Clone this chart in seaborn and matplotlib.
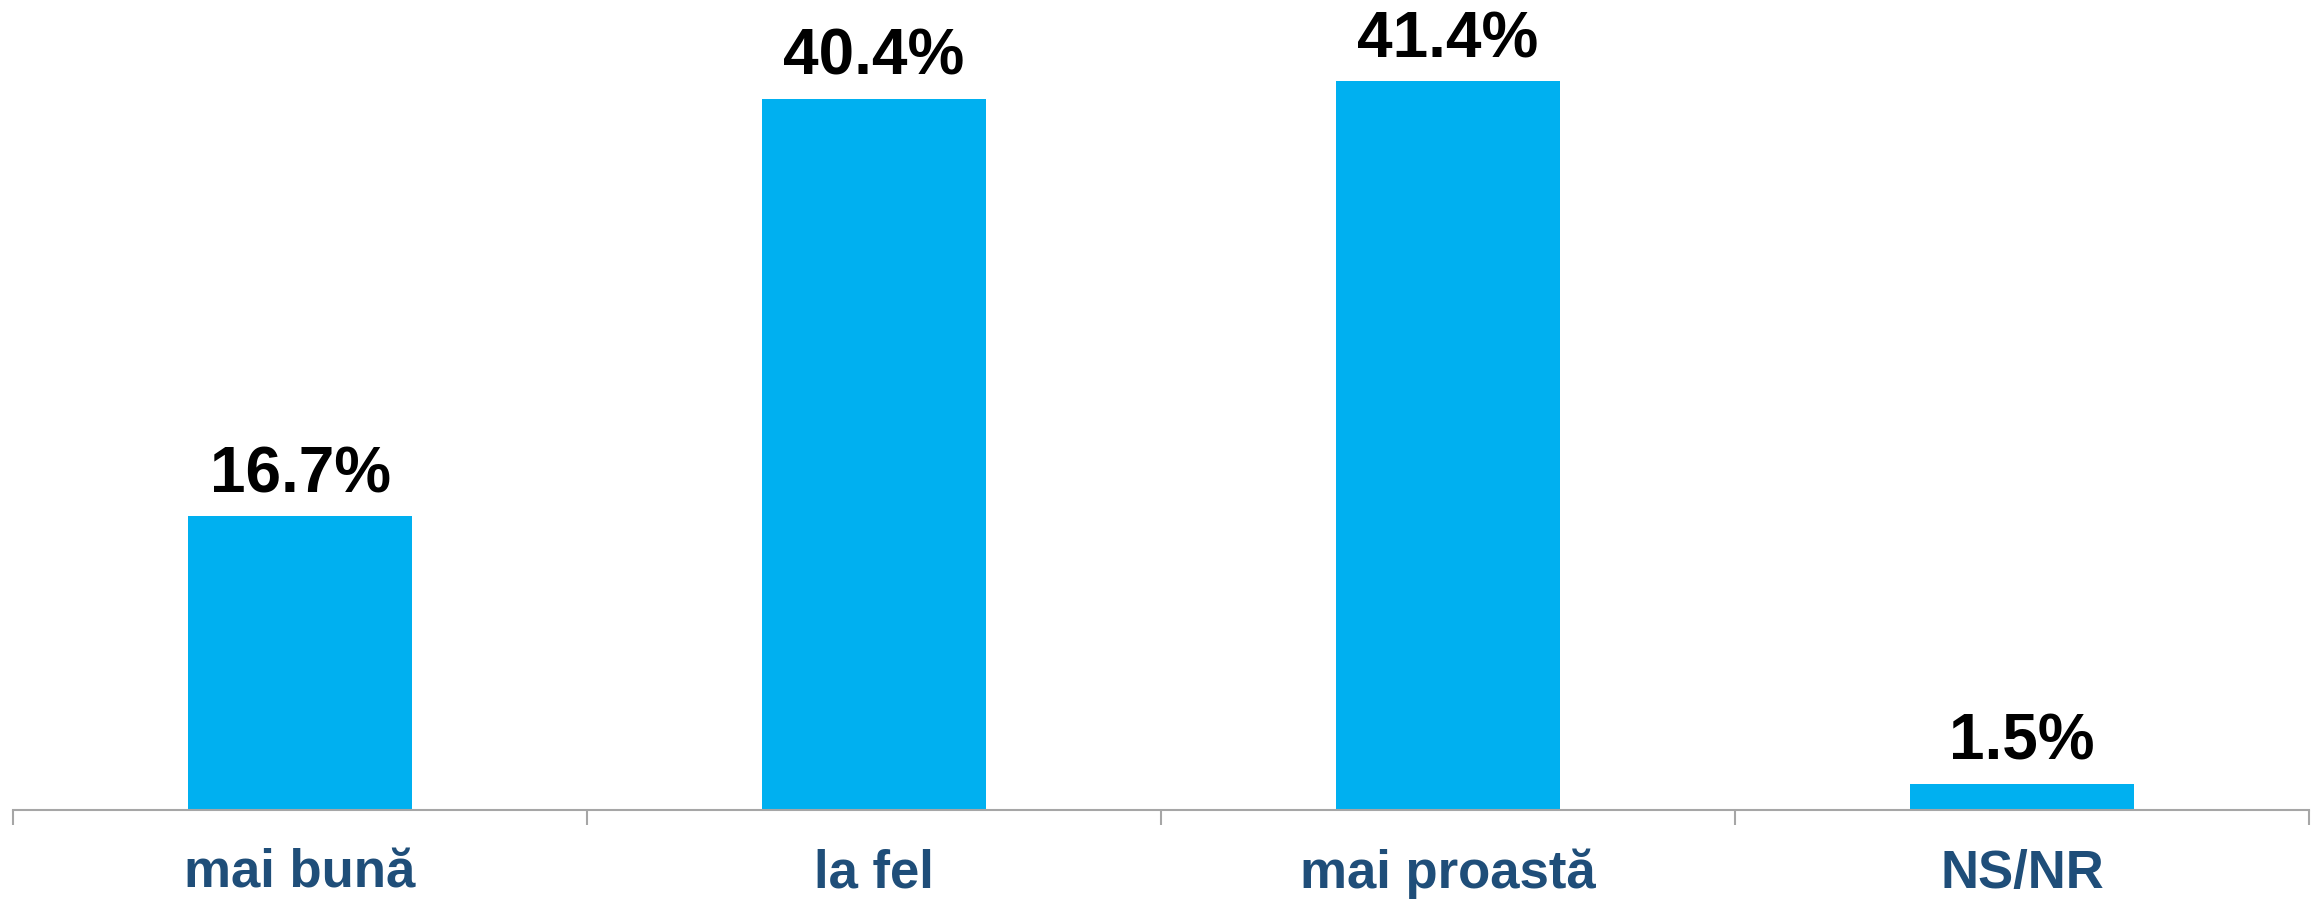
import matplotlib
matplotlib.use("Agg")
import matplotlib.pyplot as plt
import seaborn as sns
import pandas as pd

categories = ["mai bună", "la fel", "mai proastă", "NS/NR"]
values = [16.7, 40.4, 41.4, 1.5]
value_labels = ["16.7%", "40.4%", "41.4%", "1.5%"]

sns.set_theme(style="white")
plt.rcParams['font.family'] = ['Liberation Sans', 'DejaVu Sans']

df = pd.DataFrame({"cat": categories, "val": values})

W, H = 2318, 900
fig = plt.figure(figsize=(W / 100, H / 100), dpi=100)
ax = fig.add_axes([13 / W, 90 / H, (2309 - 13) / W, 810 / H])

sns.barplot(data=df, x="cat", y="val", color="#00B0F0", saturation=1,
            width=0.39, ax=ax, edgecolor="none")

ax.set_ylim(0, 46.0)
ax.set_xlim(-0.5, len(categories) - 0.5)
for s in ["top", "right", "left"]:
    ax.spines[s].set_visible(False)
ax.spines["bottom"].set_color("#A6A6A6")
ax.spines["bottom"].set_linewidth(1.5)
ax.set_yticks([])
ax.set_xlabel("")
ax.set_ylabel("")

ax.tick_params(axis="x", which="major", length=0, pad=28,
               labelsize=38, labelcolor="#1F4E79")
for t in ax.get_xticklabels():
    t.set_fontweight("bold")
ax.set_xticks([i - 0.5 for i in range(len(categories) + 1)], minor=True)
ax.tick_params(axis="x", which="minor", length=11, width=1.5,
               color="#A6A6A6", bottom=True, direction="out")

for i, (v, lab) in enumerate(zip(values, value_labels)):
    ax.annotate(lab, xy=(i, v), xytext=(0, 17), textcoords="offset points",
                ha="center", va="baseline", fontsize=46, fontweight="bold",
                color="black")

fig.savefig("out.png", dpi=100)
